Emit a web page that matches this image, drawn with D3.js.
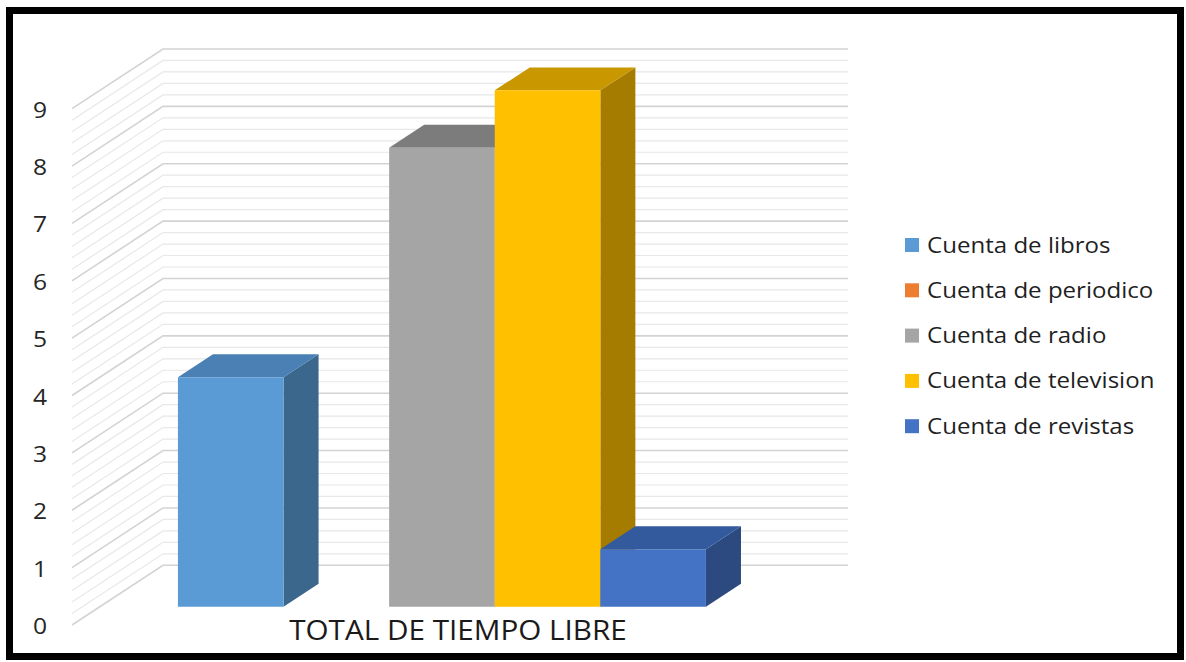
<!DOCTYPE html>
<html>
<head>
<meta charset="utf-8">
<script src="https://cdn.jsdelivr.net/npm/d3@7"></script>
<style>
  body { margin: 0; background: #fff; }
  svg { display: block; }
</style>
</head>
<body>
<svg id="drawing_region"></svg>
<script>
// datos
const category = "TOTAL DE TIEMPO LIBRE";
const series = ["Cuenta de libros", "Cuenta de periodico", "Cuenta de radio", "Cuenta de television", "Cuenta de revistas"];
const values = [4, 0, 8, 9, 1];
const frontColors = ["#5B9BD5", "#ED7D31", "#A5A5A5", "#FFC000", "#4472C4"];
const topColors = ["#4A80B4", "#C4652A", "#7C7C7C", "#C99700", "#335A9C"];
const sideColors = ["#3B678C", "#A9561F", "#6E6E6E", "#A67C00", "#2C4A80"];
const yTicks = [0, 1, 2, 3, 4, 5, 6, 7, 8, 9];

const width = 1186, height = 662;
const font = "'Open Sans', sans-serif";
const stretch = 1.12; // el texto original se ve mas ancho
const svg = d3.select("#drawing_region")
    .attr("width", width)
    .attr("height", height);

// profundidad 3D: desplazamiento del plano frontal al fondo
const depth = { dx: 91, dy: -59.7 };
const proj = (x, v, d) => [x + d * depth.dx, y(v) + d * depth.dy];

const y = d3.scaleLinear().domain([0, 9]).range([625, 108.7]);
const xWall = d3.scaleLinear().domain([0, 1]).range([72, 757]);
const xBar = d3.scaleBand().domain(series).range([150, 678]).padding(0);
const barDepth = [0.307, 0.692];

// marco
svg.append("rect")
    .attr("x", 9.5).attr("y", 10.5)
    .attr("width", 1171).attr("height", 646)
    .attr("fill", "none")
    .attr("stroke", "#000")
    .attr("stroke-width", 7);

// lineas de cuadricula (pared lateral + fondo)
const minor = d3.range(0, 9.001, 0.2).map(v => +v.toFixed(1));
const grid = svg.append("g");
minor.forEach(v => {
    const major = Math.abs(v - Math.round(v)) < 1e-6;
    const p0 = proj(xWall(0), v, 0);
    const p1 = proj(xWall(0), v, 1);
    const p2 = proj(xWall(1), v, 1);
    grid.append("polyline")
        .attr("points", [p0, p1, p2].map(p => p.join(",")).join(" "))
        .attr("fill", "none")
        .attr("stroke", major ? "#d3d3d3" : "#e8e8e8")
        .attr("stroke-width", major ? 1.6 : 1.2);
});

// etiquetas del eje
svg.append("g").selectAll("text")
    .data(yTicks)
    .join("text")
    .attr("transform", d => `translate(40, ${y(d) + 9}) scale(${stretch}, 1)`)
    .attr("text-anchor", "middle")
    .attr("font-family", font)
    .attr("font-size", 22)
    .attr("fill", "#262626")
    .text(d => d);

// barras 3D
const bars = svg.append("g");
const poly = pts => pts.map(p => p.join(",")).join(" ");
series.forEach((s, i) => {
    const v = values[i];
    if (v <= 0) return;
    const x0 = xBar(s), x1 = xBar(s) + xBar.bandwidth();
    const [d0, d1] = barDepth;
    const front = [proj(x0, 0, d0), proj(x1, 0, d0), proj(x1, v, d0), proj(x0, v, d0)];
    const top = [proj(x0, v, d0), proj(x1, v, d0), proj(x1, v, d1), proj(x0, v, d1)];
    const side = [proj(x1, 0, d0), proj(x1, 0, d1), proj(x1, v, d1), proj(x1, v, d0)];
    bars.append("polygon").attr("points", poly(side)).attr("fill", sideColors[i]);
    bars.append("polygon").attr("points", poly(top)).attr("fill", topColors[i]);
    bars.append("polygon").attr("points", poly(front)).attr("fill", frontColors[i]);
});

// etiqueta de categoria
svg.append("text")
    .attr("transform", `translate(458, 640) scale(${stretch}, 1)`)
    .attr("text-anchor", "middle")
    .attr("font-family", font)
    .attr("font-size", 26.5)
    .attr("fill", "#1a1a1a")
    .text(category);

// leyenda
const legend = svg.append("g").selectAll("g")
    .data(series)
    .join("g")
    .attr("transform", (d, i) => `translate(905, ${245 + i * 45.3})`);
legend.append("rect")
    .attr("x", 0).attr("y", -7)
    .attr("width", 14).attr("height", 14)
    .attr("fill", (d, i) => frontColors[i]);
legend.append("text")
    .attr("transform", `translate(22, 7.5) scale(${stretch}, 1)`)
    .attr("font-family", font)
    .attr("font-size", 21.5)
    .attr("fill", "#1f1f1f")
    .text(d => d);
</script>
</body>
</html>
